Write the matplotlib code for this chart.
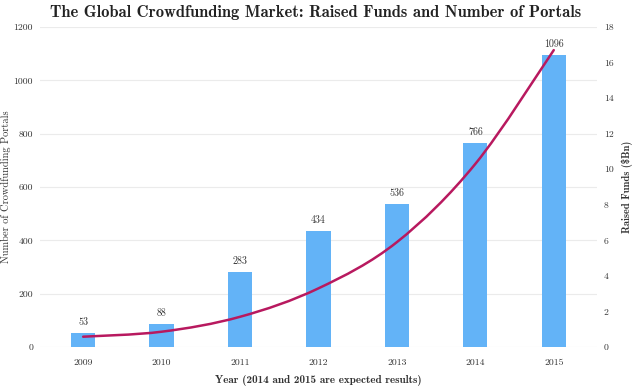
import matplotlib
matplotlib.use("Agg")
import matplotlib.pyplot as plt
from matplotlib.path import Path
from matplotlib.patches import PathPatch

# data
years = ['2009', '2010', '2011', '2012', '2013', '2014', '2015']
portals = [53, 88, 283, 434, 536, 766, 1096]
funds = [0.58, 0.86, 1.7, 3.3, 5.9, 10.3, 16.7]   # $Bn, estimated from the curve

plt.rcParams['font.family'] = 'cmr10'
plt.rcParams['axes.unicode_minus'] = False

bar_color = '#63b3f7'
line_color = '#b8195f'
text_color = '#333333'

fig = plt.figure(figsize=(6.35, 3.86), dpi=100)
ax = fig.add_axes([0.063, 0.101, 0.877, 0.829])
x = list(range(len(years)))

ax.bar(x, portals, width=0.31, color=bar_color, zorder=2)
for xi, v in zip(x, portals):
    ax.text(xi, v + 22, str(v), ha='center', va='bottom', fontsize=7.2, color=text_color)

ax.set_ylim(0, 1200)
ax.set_yticks(range(0, 1201, 200))
ax.set_xlim(-0.55, 6.55)
ax.set_xticks(x)
ax.set_xticklabels(years)
ax.grid(axis='y', color='#ebebeb', linewidth=0.8, zorder=0)
ax.set_axisbelow(True)
for s in ax.spines.values():
    s.set_visible(False)
ax.tick_params(axis='y', length=0, labelsize=7, colors=text_color, pad=5)
ax.tick_params(axis='x', length=0, labelsize=7, colors=text_color, pad=8)
ax.set_ylabel('Number of Crowdfunding Portals', fontsize=7.5, color=text_color)
ax.yaxis.set_label_coords(-0.052, 0.5)
ax.set_xlabel('Year (2014 and 2015 are expected results)', fontsize=8,
              family='cmb10', color=text_color, labelpad=6)

ax2 = ax.twinx()
ax2.set_ylim(0, 18)
ax2.set_yticks(range(0, 19, 2))

# smooth curve through the points (cubic bezier segments, catmull-rom style)
verts = [(x[0], funds[0])]
codes = [Path.MOVETO]
n = len(x)
for i in range(n - 1):
    p0 = (x[max(i - 1, 0)], funds[max(i - 1, 0)])
    p1 = (x[i], funds[i])
    p2 = (x[i + 1], funds[i + 1])
    p3 = (x[min(i + 2, n - 1)], funds[min(i + 2, n - 1)])
    c1 = (p1[0] + (p2[0] - p0[0]) / 6, p1[1] + (p2[1] - p0[1]) / 6)
    c2 = (p2[0] - (p3[0] - p1[0]) / 6, p2[1] - (p3[1] - p1[1]) / 6)
    verts += [c1, c2, p2]
    codes += [Path.CURVE4] * 3
ax2.add_patch(PathPatch(Path(verts, codes), facecolor='none', edgecolor=line_color,
                        linewidth=1.8, zorder=3, capstyle='round'))

for s in ax2.spines.values():
    s.set_visible(False)
ax2.tick_params(length=0, labelsize=7, colors=text_color, pad=5)
ax2.set_ylabel('Raised Funds (\\$Bn)', fontsize=7.5, family='cmb10', color=text_color, labelpad=6)

fig.suptitle('The Global Crowdfunding Market: Raised Funds and Number of Portals',
             family='cmb10', fontsize=11.9, color='#222222', x=0.497, y=0.988)

fig.savefig('out.png', dpi=100)
